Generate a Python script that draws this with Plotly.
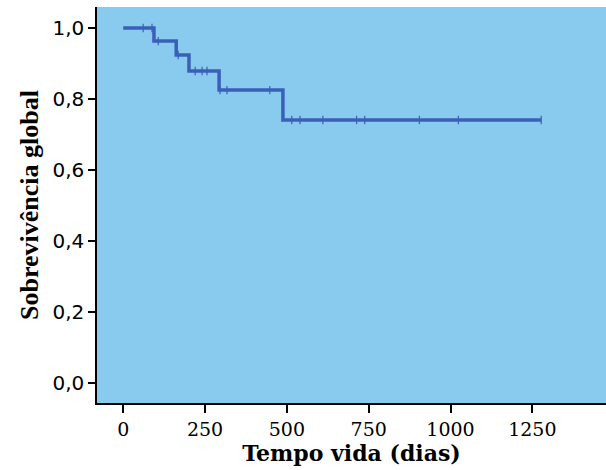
import plotly.graph_objects as go
import numpy as np

# Kaplan-Meier step data
event_times = [0, 94, 162, 201, 293, 488, 1277]
survival = [1.0, 0.963, 0.924, 0.879, 0.825, 0.741, 0.741]
censor_times = [61, 88, 107, 168, 220, 241, 256, 296, 317, 448,
                515, 540, 610, 713, 738, 905, 1024, 1277]
x_ticks = [0, 250, 500, 750, 1000, 1250]
y_ticks = [0.0, 0.2, 0.4, 0.6, 0.8, 1.0]

def surv_at(t):
    s = survival[0]
    for et, sv in zip(event_times, survival):
        if et <= t:
            s = sv
    return s

censor_surv = [surv_at(t) for t in censor_times]

line_color = "#3b5fb6"

fig = go.Figure()
fig.add_trace(go.Scatter(x=event_times, y=survival, mode="lines",
                         line=dict(shape="hv", color=line_color, width=3.5),
                         hoverinfo="skip", showlegend=False))
fig.add_trace(go.Scatter(x=censor_times, y=censor_surv, mode="markers",
                         marker=dict(symbol="line-ns-open", size=6, color=line_color,
                                     line=dict(color=line_color, width=1.2)),
                         showlegend=False))

fig.update_layout(
    width=606, height=470,
    margin=dict(l=97, r=0, t=7, b=67),
    paper_bgcolor="white",
    plot_bgcolor="#89cbee",
    separators=", ",
    xaxis=dict(range=[-80, 1475], tickvals=x_ticks, tickformat="d",
               showgrid=False, zeroline=False,
               showline=True, linecolor="black", linewidth=1.5,
               ticks="outside", ticklen=8, tickcolor="black", tickwidth=1.5,
               tickfont=dict(family="DejaVu Serif", size=19, color="black"),
               title=dict(text="<b>Tempo vida (dias)</b>",
                          font=dict(family="DejaVu Serif", size=22, color="black"),
                          standoff=7)),
    yaxis=dict(range=[-0.056, 1.059], tickvals=y_ticks, tickformat=".1f",
               showgrid=False, zeroline=False,
               showline=True, linecolor="black", linewidth=1.5,
               ticks="outside", ticklen=7, tickcolor="black", tickwidth=1.5,
               tickfont=dict(family="DejaVu Sans", size=20, color="black"),
               title=dict(text="<b>Sobrevivência global</b>",
                          font=dict(family="Liberation Serif", size=26, color="black"),
                          standoff=6)),
)

fig.write_html("out.html")
